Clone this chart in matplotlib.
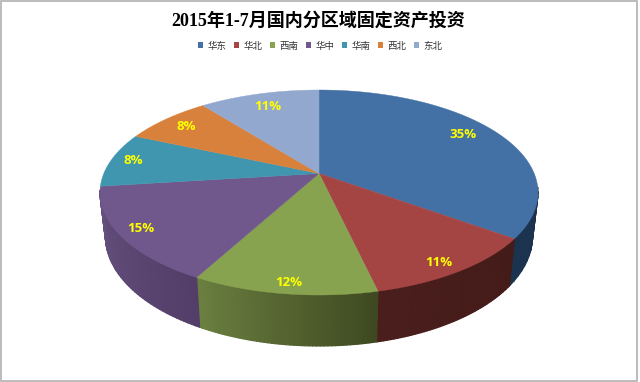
import numpy as np
import matplotlib
matplotlib.use("Agg")
import matplotlib.pyplot as plt
from matplotlib.patches import Polygon, Patch, Rectangle
from matplotlib.collections import PolyCollection
from matplotlib.colors import to_rgb

plt.rcParams['font.family'] = ['Liberation Sans', 'Noto Sans CJK SC', 'DejaVu Sans']

title = "2015年1-7月国内分区域固定资产投资"
regions = ["华东", "华北", "西南", "华中", "华南", "西北", "东北"]
shares = [35.0, 11.4, 11.5, 15.1, 8.6, 7.8, 10.6]
labels = ["35%", "11%", "12%", "15%", "8%", "8%", "11%"]
top_colors = ["#4471a5", "#a54543", "#88a34f", "#70588c", "#3f96ae", "#d8813c", "#93a8ce"]
wall_left = ["#1c3350", "#4a1e1c", "#6b7f40", "#66527f", "#35798c", "#a8622c", "#7385a5"]
wall_right = ["#182c47", "#431b19", "#3e4921", "#523e67", "#35798c", "#a8622c", "#7385a5"]
label_x = [463, 439, 289, 141, 133, 186, 268]
label_y = [134, 262, 283, 229, 161, 127, 106]

W, H = 640, 382
fig = plt.figure(figsize=(W / 100, H / 100), dpi=100)
ax = fig.add_axes([0, 0, 1, 1])
ax.set_xlim(0, W)
ax.set_ylim(H, 0)
ax.axis("off")

# perspective projection of the pie disc
CX, CY, RX, RY, APEX = 319.0, 192.5, 219.0, 102.5, 19.0
P = APEX / RY


def project(theta):
    s, c = np.sin(theta), np.cos(theta)
    d = 1 + P * c
    return CX + RX * np.sqrt(1 - P ** 2) * s / d, CY - (RY * c + APEX) / d


def drop(x, y):
    return CX + 0.975 * (x - CX), 1.07 * y + 30.3


edges = np.cumsum([0] + shares) / sum(shares) * 2 * np.pi

# walls: only the near side of the rim is visible
for i in range(len(shares)):
    th = np.linspace(edges[i], edges[i + 1], 50)
    x, y = project(th)
    xb, yb = drop(x, y)
    quads, cols = [], []
    a, b = np.array(to_rgb(wall_left[i])), np.array(to_rgb(wall_right[i]))
    for j in range(len(th) - 1):
        if y[j] < CY - 1 and y[j + 1] < CY - 1:
            continue
        quads.append([(x[j], y[j]), (x[j + 1], y[j + 1]), (xb[j + 1], yb[j + 1]), (xb[j], yb[j])])
        t = j / (len(th) - 2)
        cols.append(tuple(b + (a - b) * t))
    if quads:
        ax.add_collection(PolyCollection(quads, facecolors=cols, edgecolors=cols, linewidths=0.9, zorder=2))

# top faces
for i in range(len(shares)):
    th = np.linspace(edges[i], edges[i + 1], 120)
    x, y = project(th)
    pts = np.column_stack([np.r_[CX, x], np.r_[CY - APEX, y]])
    ax.add_patch(Polygon(pts, closed=True, facecolor=top_colors[i], edgecolor=top_colors[i], linewidth=0.3, zorder=3))

# data labels
for lx, ly, lab in zip(label_x, label_y, labels):
    ax.text(lx, ly, lab, color="#ffff00", fontsize=9.5, fontweight="bold", ha="center", va="center", zorder=5,
            family=['Open Sans', 'DejaVu Sans'])

ax.text(318, 21, title, fontsize=13, fontweight="bold", ha="center", va="center", color="black",
        family=['Liberation Serif', 'Noto Sans CJK SC'])

handles = [Patch(facecolor=c, edgecolor="none", label=r) for c, r in zip(top_colors, regions)]
fig.legend(handles=handles, loc="center", bbox_to_anchor=(320 / W, 1 - 46 / H), ncol=7, frameon=False,
           fontsize=6.8, handlelength=0.55, handleheight=0.55, handletextpad=0.5, columnspacing=0.75,
           labelcolor="#333333")

# chart frame
ax.add_patch(Rectangle((1, 1), 636, 380, fill=False, edgecolor="#b0b0b0", linewidth=1.2, zorder=6))

fig.savefig("out.png", dpi=100)
